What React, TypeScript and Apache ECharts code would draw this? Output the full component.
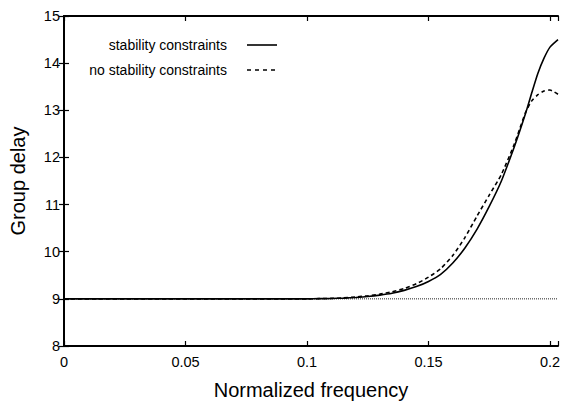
import React, { useEffect, useRef } from "react";
import * as echarts from "echarts";

const freq = [0, 0.05, 0.1, 0.105, 0.11, 0.115, 0.12, 0.125, 0.13, 0.135, 0.14, 0.145, 0.15, 0.155, 0.16, 0.165, 0.17, 0.175, 0.18, 0.185, 0.1875, 0.19, 0.1925, 0.195, 0.1975, 0.2, 0.2033];
const withStability = [9, 9, 9.0, 9.004, 9.008, 9.016, 9.03, 9.05, 9.08, 9.12, 9.18, 9.26, 9.37, 9.52, 9.76, 10.08, 10.48, 10.96, 11.5, 12.18, 12.55, 12.94, 13.37, 13.78, 14.1, 14.34, 14.5];
const withoutStability = [9, 9, 9.0, 9.005, 9.01, 9.02, 9.04, 9.065, 9.1, 9.15, 9.22, 9.32, 9.46, 9.64, 9.92, 10.3, 10.76, 11.2, 11.64, 12.24, 12.6, 12.96, 13.2, 13.33, 13.41, 13.43, 13.34];
const refLevel = 9;
const xMin = 0;
const xMax = 0.2033;
const yMin = 8;
const yMax = 15;
const legendNames = ["stability constraints", "no stability constraints"];

const FONT = "Liberation Sans, Arial, sans-serif";

export default function App() {
  const ref = useRef<HTMLDivElement>(null);
  useEffect(() => {
    if (!ref.current) return;
    const chart = echarts.init(ref.current, undefined, { renderer: "svg" });
    const axisLine = { show: true, lineStyle: { color: "#000", width: 2 } };
    const axisTick = { show: true, inside: true, length: 5, lineStyle: { color: "#000", width: 1.2 } };
    const xFmt = (v: number) => {
      const k = Math.round(v / 0.05);
      if (Math.abs(v - k * 0.05) > 1e-6) return "";
      return String(Math.round(v * 100) / 100);
    };
    const xBase = { type: "value", min: xMin, max: xMax, interval: 0.05, splitLine: { show: false }, axisLine, axisTick };
    const yBase = { type: "value", min: yMin, max: yMax, interval: 1, splitLine: { show: false }, axisLine, axisTick };
    chart.setOption({
      animation: false,
      backgroundColor: "#fff",
      textStyle: { fontFamily: FONT },
      grid: { left: 63, right: 10, top: 16, bottom: 57 },
      xAxis: [
        {
          ...xBase,
          position: "bottom",
          name: "Normalized frequency",
          nameLocation: "middle",
          nameGap: 34,
          nameTextStyle: { fontSize: 20, color: "#000", fontFamily: FONT },
          axisLabel: { fontSize: 14.5, color: "#000", margin: 8, fontFamily: FONT, formatter: xFmt },
        },
        { ...xBase, position: "top", axisLabel: { show: false } },
      ],
      yAxis: [
        {
          ...yBase,
          position: "left",
          name: "Group delay",
          nameLocation: "middle",
          nameGap: 36,
          nameTextStyle: { fontSize: 20, color: "#000", fontFamily: FONT },
          axisLabel: { fontSize: 14.5, color: "#000", margin: 4, fontFamily: FONT },
        },
        { ...yBase, position: "right", axisLabel: { show: false } },
      ],
      series: [
        {
          name: "reference",
          type: "line",
          symbol: "none",
          data: [[xMin, refLevel], [xMax, refLevel]],
          lineStyle: { color: "#222", width: 1, type: [1, 1] },
          z: 1,
        },
        {
          name: legendNames[0],
          type: "line",
          symbol: "none",
          smooth: 0.2,
          data: freq.map((f, i) => [f, withStability[i]]),
          lineStyle: { color: "#000", width: 1.6, type: "solid" },
          z: 3,
        },
        {
          name: legendNames[1],
          type: "line",
          symbol: "none",
          smooth: 0.2,
          data: freq.map((f, i) => [f, withoutStability[i]]),
          lineStyle: { color: "#000", width: 1.6, type: [4, 3] },
          z: 2,
        },
      ],
      graphic: [
        { type: "text", x: 227, y: 45, style: { text: legendNames[0], textAlign: "right", textVerticalAlign: "middle", fontSize: 14, fontFamily: FONT, fill: "#000" } },
        { type: "line", shape: { x1: 247, y1: 45, x2: 277, y2: 45 }, style: { stroke: "#000", lineWidth: 1.6 } },
        { type: "text", x: 227, y: 70, style: { text: legendNames[1], textAlign: "right", textVerticalAlign: "middle", fontSize: 14, fontFamily: FONT, fill: "#000" } },
        { type: "line", shape: { x1: 247, y1: 70, x2: 277, y2: 70 }, style: { stroke: "#000", lineWidth: 1.6, lineDash: [4, 4] } },
      ],
    });
    return () => chart.dispose();
  }, []);
  return <div ref={ref} style={{ position: "fixed", left: 0, top: 0, width: 568, height: 405 }} />;
}
